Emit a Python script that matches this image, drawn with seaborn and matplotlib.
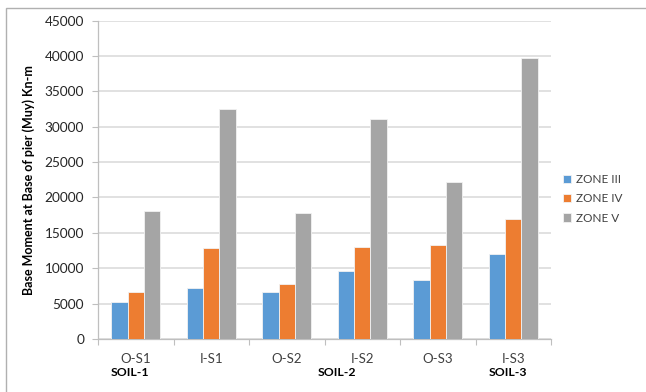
import matplotlib
matplotlib.use("Agg")
import matplotlib.pyplot as plt
import seaborn as sns
import pandas as pd
from matplotlib.patches import Rectangle

# Base moment at base of pier (Muy), kN-m
categories = ["O-S1", "I-S1", "O-S2", "I-S2", "O-S3", "I-S3"]
zones = ["ZONE III", "ZONE IV", "ZONE V"]
zone_iii = [5250, 7200, 6650, 9600, 8330, 11980]
zone_iv = [6650, 12900, 7750, 12950, 13250, 16930]
zone_v = [18100, 32550, 17750, 31120, 22170, 39720]
soil_labels = ["SOIL-1", "SOIL-2", "SOIL-3"]
y_ticks = [0, 5000, 10000, 15000, 20000, 25000, 30000, 35000, 40000, 45000]

df = pd.DataFrame({
    "case": categories * 3,
    "zone": [zones[0]] * 6 + [zones[1]] * 6 + [zones[2]] * 6,
    "moment": zone_iii + zone_iv + zone_v,
})

sns.set_theme(style="white")
plt.rcParams["font.family"] = ["Lato", "DejaVu Sans"]

palette = ["#5B9BD5", "#ED7D31", "#A5A5A5"]

fig = plt.figure(figsize=(6.46, 3.92), dpi=100)
ax = fig.add_axes([98 / 646, 53 / 392, 453 / 646, 318.5 / 392])

sns.barplot(data=df, x="case", y="moment", hue="zone", order=categories,
            hue_order=zones, palette=palette, width=0.65, saturation=1,
            edgecolor="#F2F2F2", linewidth=0.6, ax=ax, zorder=3)

ax.set_ylim(0, 45000)
ax.set_xlim(-0.5, 5.5)
ax.set_yticks(y_ticks)
ax.set_yticklabels([str(v) for v in y_ticks], fontsize=9.8, color="#262626")
ax.yaxis.grid(True, color="#D9D9D9", linewidth=1.1, zorder=0)
ax.set_axisbelow(True)

for side in ["top", "right"]:
    ax.spines[side].set_visible(False)
ax.spines["left"].set_color("#BFBFBF")
ax.spines["bottom"].set_color("#BFBFBF")
ax.spines["left"].set_linewidth(0.9)
ax.spines["bottom"].set_linewidth(0.9)

ax.tick_params(axis="y", which="major", left=True, length=4, width=0.8,
               color="#BFBFBF", pad=6)
ax.set_xticks([i + 0.5 for i in range(-1, 6)], minor=True)
ax.tick_params(axis="x", which="minor", bottom=True, length=4, width=0.8,
               color="#BFBFBF")
ax.tick_params(axis="x", which="major", bottom=False, pad=4)
ax.set_xticklabels(categories, fontsize=9.5, color="#404040")
ax.set_xlabel("")
ax.set_ylabel("Base Moment at Base of pier (Muy) Kn-m", fontsize=9,
              fontweight="bold", color="black", labelpad=7)

# Soil group labels under the case labels
for label, xpix in zip(soil_labels, [130, 337, 508]):
    fig.text(xpix / 646, 1 - 373 / 392, label, fontsize=8.8, fontweight="bold",
             ha="center", va="center", color="black")

leg = ax.legend(loc="center left", bbox_to_anchor=(1.0, 0.44), frameon=False,
                fontsize=8.5, handlelength=0.7, handleheight=0.7,
                handletextpad=0.4, labelspacing=0.7, borderaxespad=0.6)
for t in leg.get_texts():
    t.set_color("#404040")

# Chart border
fig.patches.append(Rectangle((6 / 646, -0.1), 1.0, 1 - 8 / 392 + 0.1,
                             transform=fig.transFigure, fill=False,
                             edgecolor="#B0B0B0", linewidth=1.0))

fig.savefig("out.png", dpi=100)
